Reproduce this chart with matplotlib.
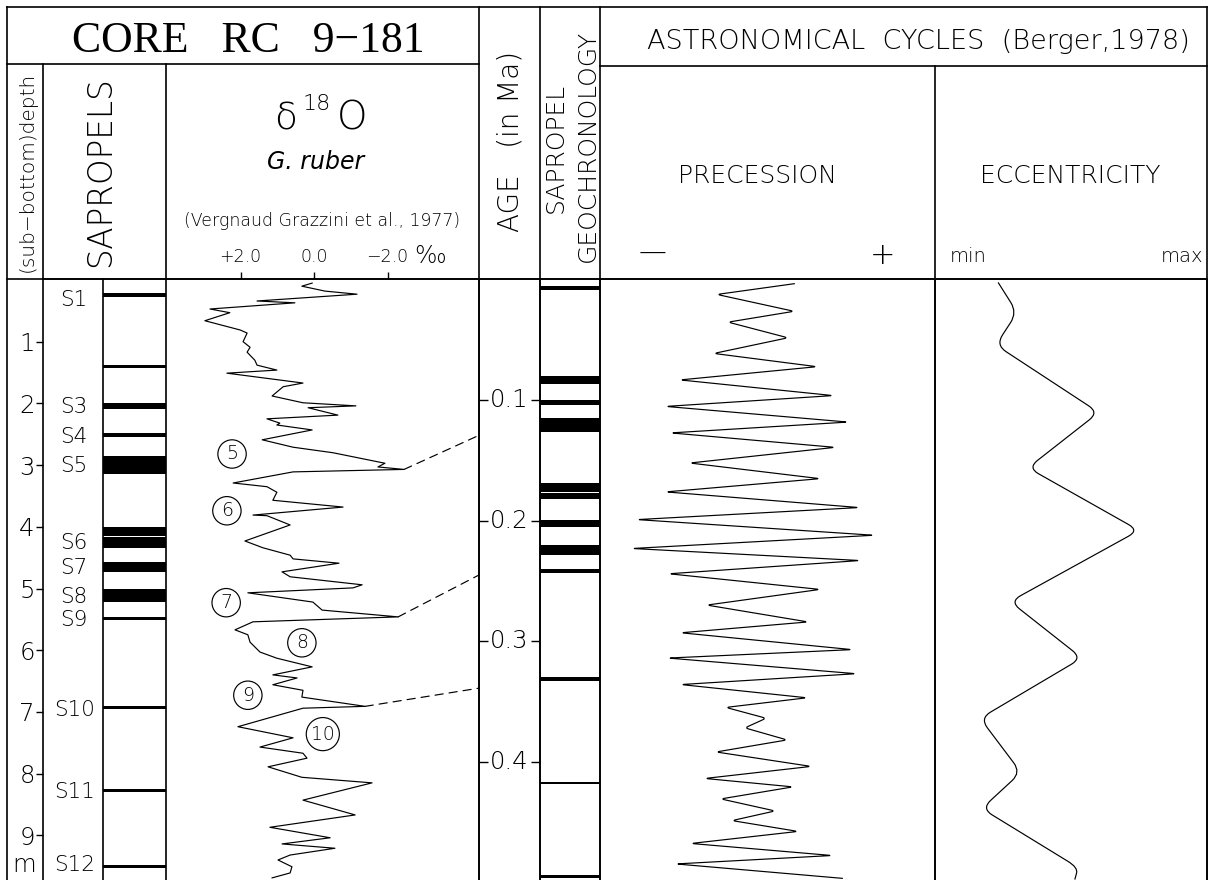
import numpy as np
import matplotlib
matplotlib.use("Agg")
import matplotlib.pyplot as plt
from matplotlib.patches import ConnectionPatch, PathPatch
from matplotlib.path import Path
from matplotlib.transforms import blended_transform_factory

plt.rcParams['font.family'] = ['DejaVu Sans']
plt.rcParams['font.weight'] = 'light'

# ---------------------------------------------------------
# data read off the core log
# ---------------------------------------------------------
# sapropel layers in the core (sub-bottom depth, m)
sap_top = [0.21, 1.38, 1.99, 2.48, 2.85, 4.00, 4.17, 4.57, 5.01, 5.46, 6.90, 8.25, 9.48]
sap_bot = [0.28, 1.42, 2.09, 2.54, 3.14, 4.15, 4.34, 4.73, 5.22, 5.51, 6.95, 8.30, 9.53]
sap_names = ['S1', 'S3', 'S4', 'S5', 'S6', 'S7', 'S8', 'S9', 'S10', 'S11', 'S12']
sap_name_depth = [0.32, 2.06, 2.54, 3.02, 4.26, 4.67, 5.14, 5.51, 6.97, 8.30, 9.48]
depth_ticks = [1, 2, 3, 4, 5, 6, 7, 8, 9]

# delta 18O of G. ruber (depth m, permil)
iso_depth = [0.05, 0.10, 0.18, 0.23, 0.34, 0.37, 0.47, 0.53, 0.66, 0.81, 0.86, 1.00,
             1.09, 1.17, 1.30, 1.38, 1.46, 1.51, 1.67, 1.73, 1.88, 1.99, 2.04, 2.07,
             2.19, 2.25, 2.32, 2.35, 2.43, 2.59, 2.71, 2.80, 2.97, 3.03, 3.07, 3.11,
             3.29, 3.35, 3.44, 3.57, 3.68, 3.81, 3.82, 3.97, 4.23, 4.34, 4.46, 4.52,
             4.59, 4.73, 4.81, 4.94, 4.99, 5.07, 5.22, 5.35, 5.46, 5.54, 5.67, 5.75,
             5.87, 6.03, 6.13, 6.27, 6.40, 6.45, 6.56, 6.65, 6.76, 6.91, 6.94, 7.24,
             7.42, 7.57, 7.67, 7.75, 7.89, 8.06, 8.15, 8.43, 8.67, 8.87, 9.04, 9.14,
             9.21, 9.32, 9.40, 9.51, 9.61, 9.69]
iso_val = [0.05, 0.33, -0.30, -1.17, 1.55, 0.52, 2.83, 2.29, 2.97, 2.01, 1.82, 1.93,
           1.74, 1.82, 1.61, 1.55, 1.01, 2.37, 0.30, 0.84, 1.14, 0.30, -1.14, 0.16,
           -0.65, 1.28, 0.93, 1.01, 0.05, 1.41, 0.57, -0.52, -1.93, -1.74, -2.45, 0.57,
           2.20, 1.28, 1.01, 1.12, -0.79, 1.66, 1.28, 0.65, 1.88, 1.39, 0.65, 0.57,
           -0.68, 0.87, 0.65, -1.31, -1.06, 1.80, 0.03, -0.22, -2.29, 1.66, 2.15, 1.80,
           1.74, 1.47, 1.01, 0.05, 1.12, 0.46, 1.12, 0.30, 0.33, -1.39, 0.30, 2.07,
           0.57, 1.47, 0.30, 0.19, 1.25, 0.33, -1.58, 0.30, -1.12, 1.20, -0.44, 0.87,
           -0.57, 0.65, 0.98, 0.60, 0.65, 1.14]
iso_ticks = [2.0, 0.0, -2.0]
iso_tick_labels = ['+2.0', '0.0', '\u22122.0']

# isotope stages (number, depth m, permil)
stage_num = ['5', '6', '7', '8', '9', '10']
stage_depth = [2.82, 3.74, 5.23, 5.88, 6.73, 7.36]
stage_val = [2.23, 2.37, 2.39, 0.33, 1.80, -0.24]

# tie points: isotope peak (depth, permil) -> age (Ma)
tie_depth = [3.07, 5.46, 6.91]
tie_val = [-2.45, -2.29, -1.39]
tie_age = [0.129, 0.245, 0.339]

# sapropel geochronology (age, Ma)
geo_top = [0.005, 0.080, 0.100, 0.115, 0.169, 0.177, 0.199, 0.220, 0.240, 0.330, 0.417, 0.494]
geo_bot = [0.008, 0.086, 0.104, 0.126, 0.176, 0.182, 0.205, 0.228, 0.243, 0.333, 0.419, 0.497]
age_ticks = [0.1, 0.2, 0.3, 0.4]

# precession index (Berger, 1978)
prec_age = [0.003, 0.012, 0.026, 0.035, 0.048, 0.061, 0.072, 0.083, 0.096, 0.105,
            0.118, 0.127, 0.139, 0.152, 0.165, 0.176, 0.189, 0.199, 0.212, 0.223,
            0.233, 0.244, 0.257, 0.270, 0.284, 0.293, 0.307, 0.314, 0.327, 0.336,
            0.347, 0.355, 0.364, 0.372, 0.382, 0.392, 0.404, 0.414, 0.421, 0.431,
            0.441, 0.449, 0.458, 0.468, 0.478, 0.485, 0.497]
prec_val = [0.0098, -0.0181, 0.0095, -0.0141, 0.0073, -0.0192, 0.0177, -0.0313,
            0.0235, -0.0364, 0.0288, -0.0346, 0.0242, -0.0278, 0.0188, -0.0364,
            0.0328, -0.0467, 0.0381, -0.0485, 0.0331, -0.0353, 0.0188, -0.0217,
            0.0145, -0.0310, 0.0303, -0.0356, 0.0317, -0.0310, 0.0141, -0.0149,
            -0.0005, -0.0081, 0.0070, -0.0184, 0.0156, -0.0224, 0.0091, -0.0167,
            0.0027, -0.0127, 0.0109, -0.0274, 0.0231, -0.0328, 0.0270]

# eccentricity (Berger, 1978)
ecc_age = [0.002, 0.027, 0.054, 0.110, 0.156, 0.208, 0.267, 0.314, 0.364, 0.409,
           0.439, 0.488, 0.498]
ecc_val = [0.0116, 0.0151, 0.0112, 0.0301, 0.0171, 0.0375, 0.0138, 0.0270, 0.0083,
           0.0158, 0.0086, 0.0263, 0.0257]

# ---------------------------------------------------------
# layout (pixels of the 1208 x 880 sheet)
# ---------------------------------------------------------
W, H = 1208, 880
TOP, BOT = 279, 880
LW_BOX = 1.2
LW_CURVE = 0.85


def px_axes(fig, x0, x1, y0=TOP, y1=BOT):
    ax = fig.add_axes([x0 / W, 1 - y1 / H, (x1 - x0) / W, (y1 - y0) / H])
    ax.set_facecolor('none')
    for s in ax.spines.values():
        s.set_linewidth(LW_BOX)
    ax.spines['bottom'].set_visible(False)
    ax.set_xticks([])
    ax.set_yticks([])
    return ax


def rounded_line(ax, xs, ys, radius, **kw):
    # polyline with rounded corners (radius in pixels)
    pts = np.column_stack([xs, ys]).astype(float)
    disp = ax.transData.transform(pts)
    verts = [pts[0]]
    codes = [Path.MOVETO]
    for i in range(1, len(pts) - 1):
        a = np.hypot(*(disp[i] - disp[i - 1]))
        b = np.hypot(*(disp[i + 1] - disp[i]))
        ta = min(radius / a, 0.45) if a > 0 else 0
        tb = min(radius / b, 0.45) if b > 0 else 0
        verts += [pts[i] + ta * (pts[i - 1] - pts[i]), pts[i],
                  pts[i] + tb * (pts[i + 1] - pts[i])]
        codes += [Path.LINETO, Path.CURVE3, Path.CURVE3]
    verts.append(pts[-1])
    codes.append(Path.LINETO)
    ax.add_patch(PathPatch(Path(verts, codes), fill=False, **kw))


def main():
    fig = plt.figure(figsize=(W / 100, H / 100), dpi=100)
    fig.patch.set_facecolor('white')

    depth_lim = ((BOT - 280) / 61.7, (TOP - 280) / 61.7)
    age_lim = ((BOT - 280) / 1204, (TOP - 280) / 1204)

    # depth + sapropel names
    ax_dep = px_axes(fig, 43, 103)
    ax_dep.spines['right'].set_visible(False)
    ax_dep.set_xlim(0, 1)
    ax_dep.set_ylim(*depth_lim)
    ax_dep.set_yticks(depth_ticks)
    ax_dep.tick_params(axis='y', direction='out', length=5, width=1.0, pad=1,
                       labelsize=17.5)
    for name, d in zip(sap_names, sap_name_depth):
        ax_dep.text(0.52, d, name, ha='center', va='center', fontsize=15.5)

    # sapropel bars
    ax_sap = px_axes(fig, 103, 166)
    ax_sap.set_xlim(0, 1)
    ax_sap.set_ylim(*depth_lim)
    mids = [(t + b) / 2 for t, b in zip(sap_top, sap_bot)]
    hts = [b - t for t, b in zip(sap_top, sap_bot)]
    ax_sap.barh(mids, 1, height=hts, left=0, color='k', lw=0)

    # delta 18O
    ax_iso = px_axes(fig, 166, 479)
    ax_iso.spines['left'].set_visible(False)
    ax_iso.set_xlim((314 - 166) / 36.75, (314 - 479) / 36.75)
    ax_iso.set_ylim(*depth_lim)
    ax_iso.plot(iso_val, iso_depth, color='k', lw=LW_CURVE)
    ax_iso.xaxis.tick_top()
    ax_iso.set_xticks(iso_ticks)
    ax_iso.set_xticklabels(iso_tick_labels)
    ax_iso.tick_params(axis='x', direction='out', length=5, width=1.0, pad=4,
                       labelsize=12.5)
    for n, d, v in zip(stage_num, stage_depth, stage_val):
        ax_iso.text(v, d, n, ha='center', va='center', fontsize=13.5,
                    bbox=dict(boxstyle='circle,pad=0.25', fc='white', ec='k',
                              lw=LW_CURVE))

    # age scale
    ax_age = px_axes(fig, 479, 540)
    ax_age.set_xlim(0, 1)
    ax_age.set_ylim(*age_lim)
    ax_age.set_yticks(age_ticks)
    ax_age.tick_params(axis='y', direction='in', left=True, right=True,
                       labelleft=False, length=6.5, width=1.0)
    tr = blended_transform_factory(ax_age.transAxes, ax_age.transData)
    for t in age_ticks:
        ax_age.text(0.5, t, f'{t:.1f}', transform=tr, ha='center', va='center',
                    fontsize=17.5)

    # sapropel geochronology
    ax_geo = px_axes(fig, 540, 600)
    ax_geo.set_xlim(0, 1)
    ax_geo.set_ylim(*age_lim)
    gm = [(t + b) / 2 for t, b in zip(geo_top, geo_bot)]
    gh = [b - t for t, b in zip(geo_top, geo_bot)]
    ax_geo.barh(gm, 1, height=gh, left=0, color='k', lw=0)

    # precession
    ax_pre = px_axes(fig, 600, 935)
    ax_pre.set_xlim(-0.06, 0.06)
    ax_pre.set_ylim(*age_lim)
    rounded_line(ax_pre, prec_val, prec_age, 3.5, color='k', lw=LW_CURVE)

    # eccentricity
    ax_ecc = px_axes(fig, 935, 1207)
    ax_ecc.set_xlim(0.0, 0.05)
    ax_ecc.set_ylim(*age_lim)
    rounded_line(ax_ecc, ecc_val, ecc_age, 12, color='k', lw=LW_CURVE)

    # dashed tie lines from isotope peaks to the age scale
    for d, v, a in zip(tie_depth, tie_val, tie_age):
        con = ConnectionPatch(xyA=(v, d), coordsA=ax_iso.transData,
                              xyB=(0, a), coordsB=ax_age.transData,
                              color='k', lw=LW_CURVE, ls=(0, (7, 5)))
        fig.add_artist(con)

    # header frame and titles (pixel coordinates)
    hdr = fig.add_axes([0, 0, 1, 1], zorder=5)
    hdr.set_xlim(0, W)
    hdr.set_ylim(H, 0)
    hdr.axis('off')
    hdr.patch.set_visible(False)
    segs = [
        ((7, 1207), (7, 7)), ((7, 7), (7, 880)), ((1207, 1207), (7, 880)),
        ((7, 479), (64, 64)), ((600, 1207), (66, 66)), ((7, 1207), (TOP, TOP)),
        ((43, 43), (64, TOP)), ((166, 166), (64, TOP)), ((479, 479), (7, TOP)),
        ((540, 540), (7, TOP)), ((600, 600), (7, TOP)), ((935, 935), (66, TOP)),
    ]
    for xs, ys in segs:
        hdr.plot(xs, ys, color='k', lw=LW_BOX, solid_capstyle='projecting')

    hdr.text(248, 52, 'CORE   RC   9\u2212181', family='Liberation Serif',
             fontsize=31.5, ha='center', va='baseline')
    hdr.text(27, 172, '(sub\u2212bottom)depth', rotation=90, fontsize=14.5,
             ha='center', va='center')
    hdr.text(101, 172, 'SAPROPELS', rotation=90, fontsize=23.5,
             ha='center', va='center')
    hdr.text(286, 130, '\u03b4', fontsize=27, ha='center', va='baseline')
    hdr.text(317, 110, '18', fontsize=16, ha='center', va='baseline')
    hdr.text(352, 130, 'O', fontsize=28, ha='center', va='baseline')
    hdr.text(316, 169, 'G. ruber', fontsize=17, style='italic',
             ha='center', va='baseline')
    hdr.text(322, 226, '(Vergnaud Grazzini et al., 1977)', fontsize=12.5,
             ha='center', va='baseline')
    hdr.text(430, 263, '\u2030', fontsize=17, ha='center', va='baseline')
    hdr.text(510, 141, 'AGE   (in Ma)', rotation=90, fontsize=20,
             ha='center', va='center')
    hdr.text(556, 148, 'SAPROPEL', rotation=90, fontsize=18,
             ha='center', va='center')
    hdr.text(588, 146, 'GEOCHRONOLOGY', rotation=90, fontsize=18,
             ha='center', va='center')
    hdr.text(918, 49, 'ASTRONOMICAL  CYCLES  (Berger,1978)', fontsize=19.5,
             ha='center', va='baseline')
    hdr.text(757, 183, 'PRECESSION', fontsize=18, ha='center', va='baseline')
    hdr.text(1070, 183, 'ECCENTRICITY', fontsize=18, ha='center', va='baseline')
    hdr.text(653, 253, '\u2014', fontsize=20, ha='center', va='center')
    hdr.text(883, 255, '+', fontsize=22, ha='center', va='center')
    hdr.text(968, 262, 'min', fontsize=14, ha='center', va='baseline')
    hdr.text(1182, 262, 'max', fontsize=14, ha='center', va='baseline')
    hdr.text(24, 865, 'm', fontsize=17.5, ha='center', va='center')

    fig.savefig('out.png', dpi=100, facecolor='white')


if __name__ == "__main__":
    main()
